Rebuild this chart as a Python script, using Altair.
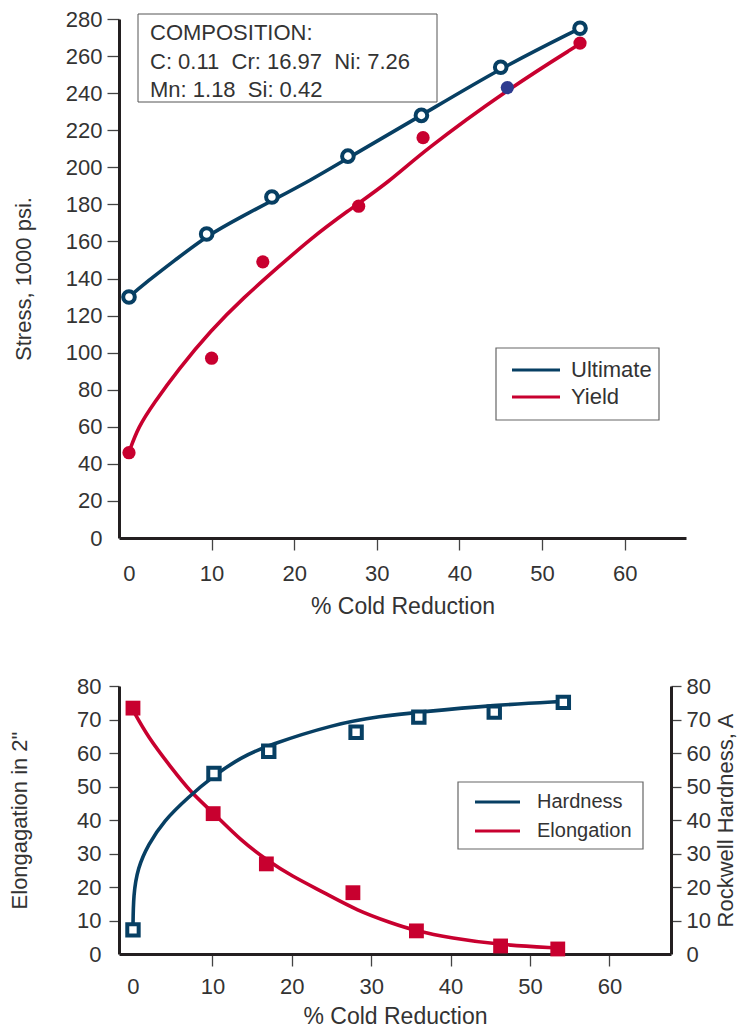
import altair as alt
import pandas as pd

# ---------------- data ----------------
# Top panel: stress vs % cold reduction
ult_x = [0, 9.4, 17.3, 26.5, 35.4, 45.0, 54.6]
ult_y = [130, 164, 184, 206, 228, 254, 275]
yld_x = [0, 10.0, 16.2, 27.8, 35.6, 45.8, 54.6]
yld_y = [46, 97, 149, 179, 216, 243, 267]

ult_curve_x = [0, 1.8, 5.9, 9.4, 13.9, 17.3, 22.0, 26.5, 35.4, 45.0, 54.6]
ult_curve_y = [130, 137, 151, 163, 174, 182, 193, 205, 228, 253.6, 275]
yld_curve_x = [0, 1.1, 3.0, 5.9, 9.9, 13.9, 18.0, 22.0, 26.2, 31.7, 35.4, 45.9, 54.6]
yld_curve_y = [46.3, 59.8, 72.7, 90.5, 112, 129.8, 145.9, 161.5, 175.6, 192.8, 207.9, 242.3, 266.6]

# Bottom panel: elongation and hardness vs % cold reduction
hard_x = [0, 10.2, 17.1, 28.1, 36.0, 45.5, 54.2]
hard_y = [7.2, 53.9, 60.5, 66.2, 70.7, 72.2, 75.1]
elong_x = [0, 10.1, 16.8, 27.7, 35.7, 46.3, 53.5]
elong_y = [73.4, 41.9, 26.9, 18.3, 6.9, 2.4, 1.5]

hard_curve_x = [0, 0.05, 0.6, 1.9, 3.9, 6.9, 10.2, 13.6, 17.0, 25.3, 31.2, 36.0, 45.5, 54.2]
hard_curve_y = [7.5, 17.7, 25.7, 32.6, 39.8, 46.7, 53.3, 58.7, 62.3, 68.6, 71.0, 72.2, 74.3, 75.4]
elong_curve_x = [0, 1.9, 4.8, 7.3, 10.1, 13.6, 17.0, 19.9, 24.1, 28.3, 32.5, 35.6, 40.0, 46.3, 53.5]
elong_curve_y = [72.8, 64.7, 55.7, 48.2, 42.2, 33.8, 27.8, 23.4, 18.3, 12.9, 9.3, 6.9, 4.8, 2.7, 1.8]

NB = "\u00a0"
composition = ["COMPOSITION:",
               "C: 0.11" + NB + " Cr: 16.97" + NB + " Ni: 7.26",
               "Mn: 1.18" + NB + " Si: 0.42"]
top_series = ["Ultimate", "Yield"]
bottom_series = ["Hardness", "Elongation"]
x_ticks = [0, 10, 20, 30, 40, 50, 60]
stress_ticks = list(range(0, 281, 20))
small_ticks = list(range(0, 81, 10))

# ---------------- styling ----------------
BLUE = "#073f63"
RED = "#c8002f"
ODD = "#2e3b8f"
FONT = "Liberation Sans"
TXT = "#333333"
FS = 22


def frame(xs, ys, name):
    return pd.DataFrame({"x": xs, "y": ys, "series": name})


ONE = pd.DataFrame({"a": [0]})
hide_zero = alt.ExprRef(expr="datum.value == 0 ? 0 : 1")


def axis(values, title, tick, pad, tpad, orient=None, angle=None, tfs=FS, baseline=None):
    kw = dict(
        values=values, title=title, grid=False,
        domainColor="#231f20", domainWidth=3,
        tickColor="#444444", tickWidth=1.3, tickSize=tick, tickOpacity=hide_zero,
        labelFont=FONT, labelFontSize=FS, labelColor=TXT, labelPadding=pad,
        titleFont=FONT, titleFontSize=tfs, titleFontWeight="normal", titleColor=TXT,
        titlePadding=tpad,
    )
    if orient:
        kw["orient"] = orient
    if angle is not None:
        kw["titleAngle"] = angle
    if baseline:
        kw["titleBaseline"] = baseline
    return alt.Axis(**kw)


def key(names, colors, box, line_x, text_x, rows, fs):
    """Boxed key: a framed rectangle, one short line and one label per series."""
    layers = [alt.Chart(ONE).mark_rect(fill="white", stroke="#666666", strokeWidth=1.2).encode(
        x=alt.value(box[0]), x2=alt.value(box[1]), y=alt.value(box[2]), y2=alt.value(box[3]))]
    for name, col, yy in zip(names, colors, rows):
        layers.append(alt.Chart(ONE).mark_rule(color=col, strokeWidth=3).encode(
            x=alt.value(line_x[0]), x2=alt.value(line_x[1]), y=alt.value(yy)))
        layers.append(alt.Chart(ONE).mark_text(
            text=name, align="left", baseline="middle", font=FONT, fontSize=fs, color=TXT
        ).encode(x=alt.value(text_x), y=alt.value(yy)))
    return layers


# ---------------- top panel ----------------
TW, TH = 567, 519
tx = alt.X("x:Q", scale=alt.Scale(domain=[-1.21, 67.43], nice=False, zero=False),
           axis=axis(x_ticks, "% Cold Reduction", 12, 13, 11, tfs=23))
ty = alt.Y("y:Q", scale=alt.Scale(domain=[0, 280], nice=False),
           axis=axis(stress_ticks, "Stress, 1000 psi.", 12, 5, 30))

box = alt.Chart(ONE).mark_rect(fill="white", stroke="#555555", strokeWidth=1).encode(
    x=alt.value(19), x2=alt.value(318), y=alt.value(-5), y2=alt.value(83))

comp = alt.Chart(ONE).mark_text(
    text=composition, align="left", baseline="top", font=FONT, fontSize=FS,
    color=TXT, lineHeight=28.5
).encode(x=alt.value(31), y=alt.value(4))

ult_line = alt.Chart(frame(ult_curve_x, ult_curve_y, top_series[0])).mark_line(
    interpolate="basis", strokeWidth=3.6, color=BLUE).encode(x=tx, y=ty)
yld_line = alt.Chart(frame(yld_curve_x, yld_curve_y, top_series[1])).mark_line(
    interpolate="basis", strokeWidth=3.6, color=RED).encode(x=tx, y=ty)

ult_pts = alt.Chart(frame(ult_x, ult_y, top_series[0])).mark_point(
    shape="circle", filled=True, fill="white", stroke=BLUE, strokeWidth=4, size=135, opacity=1
).encode(x=tx, y=ty)

yld_pts = alt.Chart(frame(yld_x, yld_y, top_series[1])).mark_circle(size=175, opacity=1).encode(
    x=tx, y=ty,
    color=alt.condition("datum.x == 45.8", alt.value(ODD), alt.value(RED)),
)

top_key = key(top_series, [BLUE, RED], (377, 540, 329, 401), (393, 441), 452, (351, 378), 22)

top = alt.layer(box, comp, ult_line, yld_line, ult_pts, yld_pts, *top_key).properties(
    width=TW, height=TH)

# ---------------- bottom panel ----------------
BW, BH = 552, 268
bx = alt.X("x:Q", scale=alt.Scale(domain=[-1.76, 67.76], nice=False, zero=False),
           axis=axis(x_ticks, "% Cold Reduction", 12, 10, 8, tfs=23))
by_left = alt.Y("y:Q", scale=alt.Scale(domain=[0, 80], nice=False),
                axis=axis(small_ticks, 'Elongagation in 2"', 10, 8, 45))
by_right = alt.Y("y:Q", scale=alt.Scale(domain=[0, 80], nice=False),
                 axis=axis(small_ticks, "Rockwell Hardness, A", 10, 5, 5,
                           orient="right", angle=270, baseline="top"))

elong_line = alt.Chart(frame(elong_curve_x, elong_curve_y, bottom_series[1])).mark_line(
    interpolate="basis", strokeWidth=3.6, color=RED).encode(x=bx, y=by_left)
elong_pts = alt.Chart(frame(elong_x, elong_y, bottom_series[1])).mark_square(
    size=220, color=RED, opacity=1).encode(x=bx, y=by_left)
hard_line = alt.Chart(frame(hard_curve_x, hard_curve_y, bottom_series[0])).mark_line(
    interpolate="basis", strokeWidth=3.6, color=BLUE).encode(x=bx, y=by_right)
hard_pts = alt.Chart(frame(hard_x, hard_y, bottom_series[0])).mark_point(
    shape="square", filled=True, fill="white", stroke=BLUE, strokeWidth=4, size=130, opacity=1
).encode(x=bx, y=by_right)

bottom_key = key(bottom_series, [BLUE, RED], (339, 524, 96, 163), (356, 401), 418, (116, 145), 20)

left = alt.layer(elong_line, elong_pts, *bottom_key)
right = alt.layer(hard_line, hard_pts)
bottom = alt.layer(left, right).resolve_scale(y="independent").properties(width=BW, height=BH)

chart = alt.vconcat(top, bottom, spacing=57).resolve_scale(x="independent").properties(
    padding={"left": 0, "top": 0, "right": 0, "bottom": 0}
).configure_view(stroke=None)

chart.save("out.html", embed_options={"renderer": "svg", "actions": False})
